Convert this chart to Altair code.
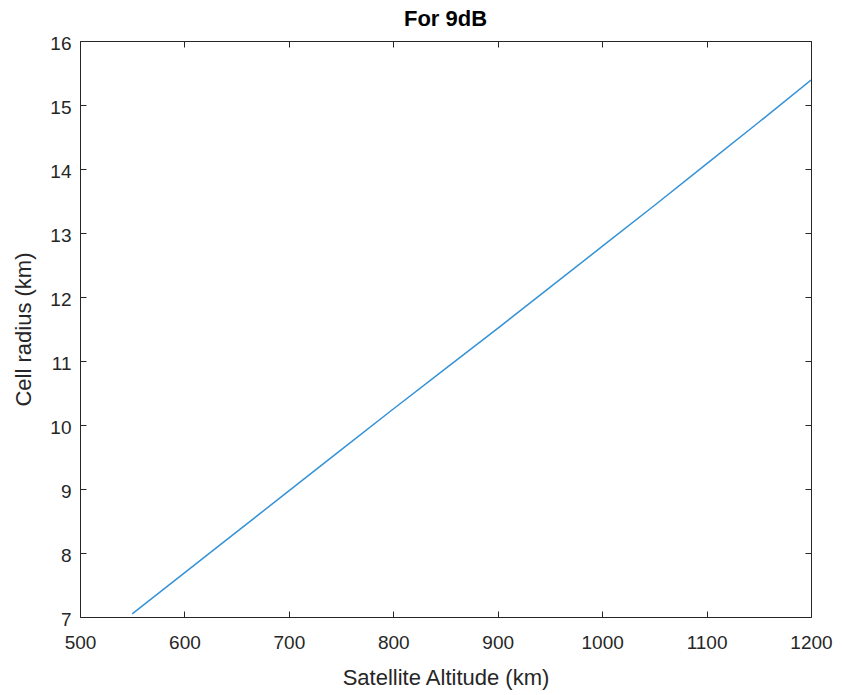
import altair as alt
import pandas as pd

altitude_km = [550, 600, 650, 700, 750, 800, 850, 900, 950, 1000, 1050, 1100, 1150, 1200]
cell_radius_km = [7.05, 7.69, 8.33, 8.97, 9.61, 10.25, 10.88, 11.51, 12.15, 12.79, 13.43, 14.08, 14.73, 15.39]
x_ticks = [500, 600, 700, 800, 900, 1000, 1100, 1200]
y_ticks = [7, 8, 9, 10, 11, 12, 13, 14, 15, 16]

df = pd.DataFrame({"alt": altitude_km, "r": cell_radius_km})

FONT = "Liberation Sans"
INK = "#262626"
W, H = 731, 576
T = 6

xscale = alt.Scale(domain=[500, 1200], nice=False, zero=False)
yscale = alt.Scale(domain=[7, 16], nice=False, zero=False)

common = dict(domain=False, grid=False, tickSize=T, offset=-T, tickColor=INK,
              tickWidth=1, labelColor=INK, labelFont=FONT, labelFontSize=19,
              labelFlush=False, labelOverlap=False,
              titleColor=INK, titleFont=FONT, titleFontSize=22, titleFontWeight="normal")

x_axis = alt.Axis(values=x_ticks, orient="bottom", labelPadding=16, format="d",
                  title="Satellite Altitude (km)", titleY=73, titleBaseline="alphabetic",
                  **common)
y_axis = alt.Axis(values=y_ticks, orient="left", labelPadding=9, labelOffset=2, format="d",
                  title="Cell radius (km)", titleX=-56, titleY=H / 2,
                  titleAngle=-90, titleAlign="center", titleBaseline="alphabetic",
                  **common)
x_top = alt.Axis(values=x_ticks, orient="top", labels=False, title=None, **common)
y_right = alt.Axis(values=y_ticks, orient="right", labels=False, title=None, **common)

line = alt.Chart(df).mark_line(color="#3592d6", strokeWidth=1.5, clip=True).encode(
    x=alt.X("alt:Q", scale=xscale, axis=x_axis),
    y=alt.Y("r:Q", scale=yscale, axis=y_axis),
)
mirror = alt.Chart(df).mark_line(opacity=0).encode(
    x=alt.X("alt:Q", scale=xscale, axis=x_top),
    y=alt.Y("r:Q", scale=yscale, axis=y_right),
)

chart = (
    alt.layer(line, mirror)
    .resolve_axis(x="independent", y="independent")
    .properties(
        width=W, height=H,
        title=alt.TitleParams("For 9dB", font=FONT, fontSize=22, fontWeight="bold",
                              color="#000000", anchor="middle", baseline="bottom",
                              offset=4, dy=23),
        autosize=alt.AutoSizeParams(type="none"),
        padding={"left": 80, "top": 41, "right": 31, "bottom": 78},
        view=alt.ViewBackground(stroke=INK, strokeWidth=1, fill="white"),
    )
    .configure_view(stroke=INK, strokeWidth=1)
    .configure(background="white")
)

chart.save("out.html", embed_options={"renderer": "svg", "actions": False})
